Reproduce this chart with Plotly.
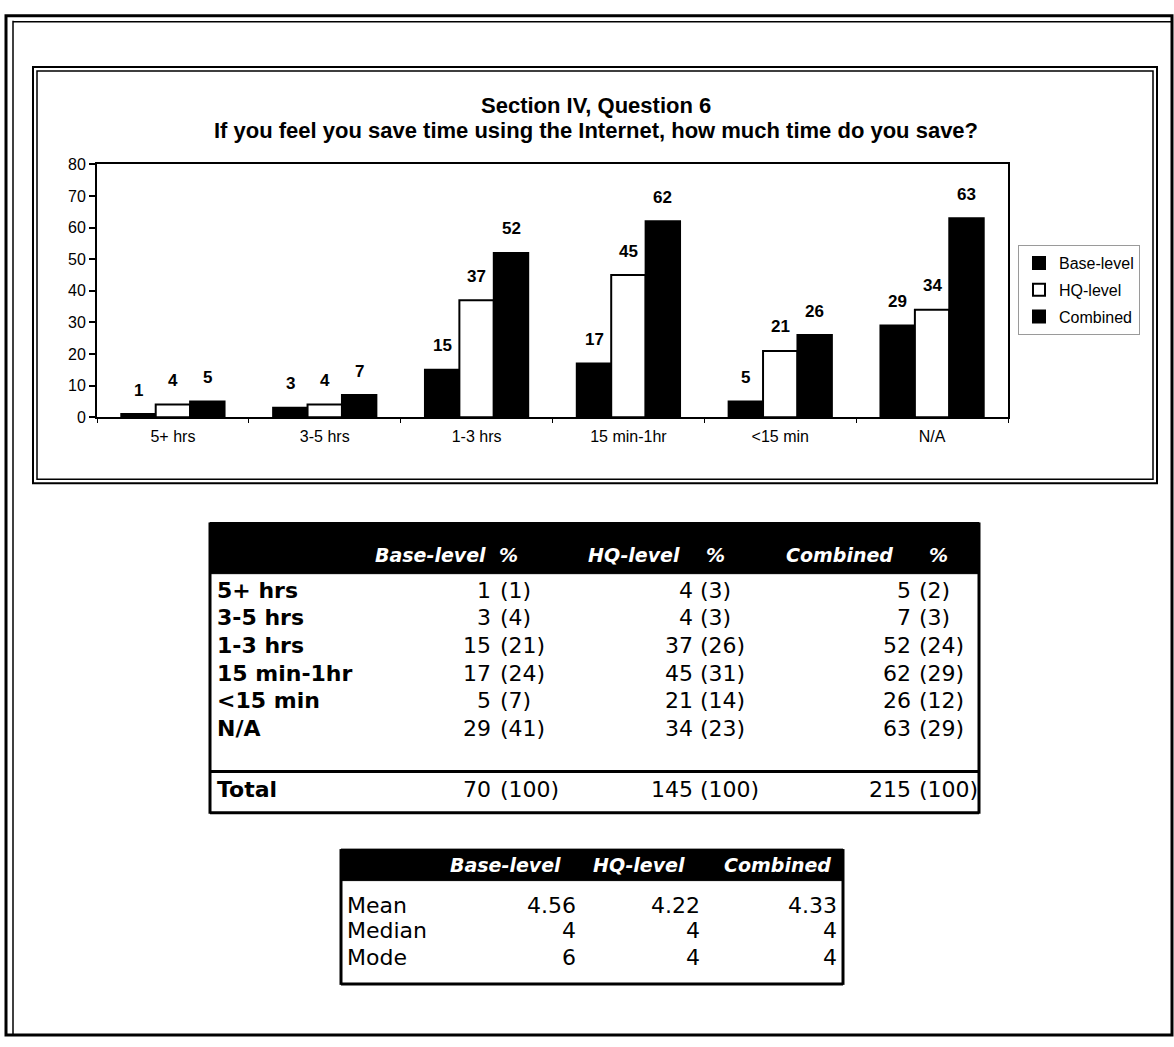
import plotly.graph_objects as go

# ---------------- data ----------------
categories = ["5+ hrs", "3-5 hrs", "1-3 hrs", "15 min-1hr", "<15 min", "N/A"]
series_names = ["Base-level", "HQ-level", "Combined"]
base_level = [1, 3, 15, 17, 5, 29]
hq_level = [4, 4, 37, 45, 21, 34]
combined = [5, 7, 52, 62, 26, 63]
base_pct = [1, 4, 21, 24, 7, 41]
hq_pct = [3, 3, 26, 31, 14, 23]
comb_pct = [2, 3, 24, 29, 12, 29]
total_label = "Total"
totals = [70, 145, 215]
total_pct = [100, 100, 100]
table1_headers = ["Base-level", "%", "HQ-level", "%", "Combined", "%"]

stat_names = ["Mean", "Median", "Mode"]
stat_base = ["4.56", "4", "6"]
stat_hq = ["4.22", "4", "4"]
stat_comb = ["4.33", "4", "4"]
table2_headers = ["Base-level", "HQ-level", "Combined"]

title_line1 = "Section IV, Question 6"
title_line2 = "If you feel you save time using the Internet, how much time do you save?"

# ---------------- layout helpers ----------------
W, H = 1174, 1047
CHART_FONT = "Liberation Sans, Arial, sans-serif"
TABLE_FONT = "DejaVu Sans, sans-serif"


def px(x):
    return x / W


def py(y):
    return 1 - y / H


fig = go.Figure()

colors = ["black", "white", "black"]
values = [base_level, hq_level, combined]
for name, vals, col in zip(series_names, values, colors):
    fig.add_trace(go.Bar(
        x=categories, y=vals, name=name, legendgroup=name,
        marker=dict(color=col, line=dict(color="black", width=2)),
        hoverinfo="x+y+name",
    ))

BARGAP = 0.32
bw = (1 - BARGAP) / len(series_names)
for j, vals in enumerate(values):
    for i, v in enumerate(vals):
        fig.add_annotation(
            x=i + (j - 1) * bw, y=v, xref="x", yref="y",
            text="<b>%d</b>" % v, showarrow=False, yshift=24,
            font=dict(family=CHART_FONT, size=17, color="black"),
        )

# titles
for txt, yy in [(title_line1, 99), (title_line2, 125)]:
    fig.add_annotation(x=px(595.5), y=py(yy), xref="paper", yref="paper",
                       text="<b>%s</b>" % txt, showarrow=False,
                       xanchor="center", yanchor="middle",
                       font=dict(family=CHART_FONT, size=22, color="black"))

shapes = []


def rect(x0, y0, x1, y1, width=2, color="black"):
    shapes.append(dict(type="rect", xref="paper", yref="paper",
                       x0=px(x0), x1=px(x1), y0=py(y1), y1=py(y0),
                       line=dict(color=color, width=width), layer="above"))


def hline(x0, x1, y, width=2):
    shapes.append(dict(type="line", xref="paper", yref="paper",
                       x0=px(x0), x1=px(x1), y0=py(y), y1=py(y),
                       line=dict(color="black", width=width)))


def vline(x, y0, y1, width=2):
    shapes.append(dict(type="line", xref="paper", yref="paper",
                       x0=px(x), x1=px(x), y0=py(y0), y1=py(y1),
                       line=dict(color="black", width=width)))


def band(x0, y0, x1, y1):
    shapes.append(dict(type="rect", xref="paper", yref="paper", x0=px(x0), x1=px(x1),
                       y0=py(y1), y1=py(y0), fillcolor="black",
                       line=dict(color="black", width=1), layer="below"))


# page border
rect(6, 8, 1172, 1044, width=3)
vline(13, 13, 1044, width=1.5)
hline(13, 1172, 14, width=1.5)
# chart frame (double)
rect(33, 60, 1157, 483, width=2)
rect(37, 64, 1153, 479, width=1.5)

# ---------------- Table 1 ----------------
T1_L, T1_R = 210, 979
T1_HTOP, T1_HBOT = 523, 575
band(T1_L, T1_HTOP, T1_R, T1_HBOT)
head_right = [488, 520, 682, 727, 895, 950]
for txt, xr in zip(table1_headers, head_right):
    fig.add_annotation(x=px(xr), y=py(556), xref="paper", yref="paper",
                       text="<b><i>%s</i></b>" % txt, showarrow=False,
                       xanchor="right", yanchor="middle",
                       font=dict(family=TABLE_FONT, size=19, color="white"))

row_y = [592, 620, 648, 676, 704, 732]
num_right = [493, 695, 913]
pct_left = [498, 698, 917]
cols = [(base_level, base_pct), (hq_level, hq_pct), (combined, comb_pct)]
for r, cat in enumerate(categories):
    fig.add_annotation(x=px(215), y=py(row_y[r]), xref="paper", yref="paper",
                       text="<b>%s</b>" % cat, showarrow=False,
                       xanchor="left", yanchor="middle",
                       font=dict(family=TABLE_FONT, size=22, color="black"))
    for c, (nums, pcts) in enumerate(cols):
        fig.add_annotation(x=px(num_right[c]), y=py(row_y[r]), xref="paper", yref="paper",
                           text=str(nums[r]), showarrow=False,
                           xanchor="right", yanchor="middle",
                           font=dict(family=TABLE_FONT, size=22, color="black"))
        fig.add_annotation(x=px(pct_left[c]), y=py(row_y[r]), xref="paper", yref="paper",
                           text="(%d)" % pcts[r], showarrow=False,
                           xanchor="left", yanchor="middle",
                           font=dict(family=TABLE_FONT, size=22, color="black"))
TOT_Y = 794
fig.add_annotation(x=px(215), y=py(TOT_Y), xref="paper", yref="paper",
                   text="<b>%s</b>" % total_label, showarrow=False,
                   xanchor="left", yanchor="middle",
                   font=dict(family=TABLE_FONT, size=22, color="black"))
for c in range(3):
    fig.add_annotation(x=px(num_right[c]), y=py(TOT_Y), xref="paper", yref="paper",
                       text=str(totals[c]), showarrow=False,
                       xanchor="right", yanchor="middle",
                       font=dict(family=TABLE_FONT, size=22, color="black"))
    fig.add_annotation(x=px(pct_left[c]), y=py(TOT_Y), xref="paper", yref="paper",
                       text="(%d)" % total_pct[c], showarrow=False,
                       xanchor="left", yanchor="middle",
                       font=dict(family=TABLE_FONT, size=22, color="black"))
vline(T1_L, T1_HTOP, 819, width=3)
vline(T1_R, T1_HTOP, 819, width=3)
hline(T1_L, T1_R, 776, width=3)
hline(T1_L, T1_R, 818, width=3)

# ---------------- Table 2 ----------------
T2_L, T2_R = 341, 843
T2_HTOP, T2_HBOT = 855, 887
band(T2_L, T2_HTOP, T2_R, T2_HBOT)
for txt, xr in zip(table2_headers, [563, 687, 833]):
    fig.add_annotation(x=px(xr), y=py(871), xref="paper", yref="paper",
                       text="<b><i>%s</i></b>" % txt, showarrow=False,
                       xanchor="right", yanchor="middle",
                       font=dict(family=TABLE_FONT, size=19, color="white"))
stat_y = [912, 938, 965]
stat_cols = [stat_base, stat_hq, stat_comb]
for r, nm in enumerate(stat_names):
    fig.add_annotation(x=px(345), y=py(stat_y[r]), xref="paper", yref="paper",
                       text=nm, showarrow=False, xanchor="left", yanchor="middle",
                       font=dict(family=TABLE_FONT, size=22, color="black"))
    for c, xr in enumerate([578, 702, 839]):
        fig.add_annotation(x=px(xr), y=py(stat_y[r]), xref="paper", yref="paper",
                           text=stat_cols[c][r], showarrow=False,
                           xanchor="right", yanchor="middle",
                           font=dict(family=TABLE_FONT, size=22, color="black"))
vline(T2_L, T2_HTOP, 993, width=3)
vline(T2_R, T2_HTOP, 993, width=3)
hline(T2_L, T2_R, 992, width=3)

fig.update_layout(
    width=W, height=H, autosize=False,
    margin=dict(l=0, r=0, t=0, b=0, pad=0),
    paper_bgcolor="white", plot_bgcolor="white",
    barmode="group", bargap=BARGAP, bargroupgap=0,
    shapes=shapes,
    showlegend=True,
    legend=dict(x=px(1018), y=py(241), xanchor="left", yanchor="top",
                bordercolor="#9a9a9a", borderwidth=1, bgcolor="white",
                traceorder="grouped", tracegroupgap=3,
                font=dict(family=CHART_FONT, size=16, color="black")),
    xaxis=dict(domain=[px(97), px(1008)], showline=True, linecolor="black",
               linewidth=2, mirror=True, ticks="outside", tickson="boundaries",
               ticklen=4, tickcolor="black", tickwidth=1,
               tickfont=dict(family=CHART_FONT, size=16, color="black"),
               showgrid=False, zeroline=False, ticklabelstandoff=4,
               fixedrange=True),
    yaxis=dict(domain=[py(416), py(159)], range=[0, 80], tick0=0, dtick=10,
               showline=True, linecolor="black", linewidth=2, mirror=True,
               ticks="outside", ticklen=6, tickcolor="black", tickwidth=1.5,
               tickfont=dict(family=CHART_FONT, size=16, color="black"),
               showgrid=False, zeroline=False, fixedrange=True),
)

fig.write_html("out.html",
               config={"displayModeBar": False},
               post_script="document.body.style.margin='0';document.body.style.overflow='hidden';")
